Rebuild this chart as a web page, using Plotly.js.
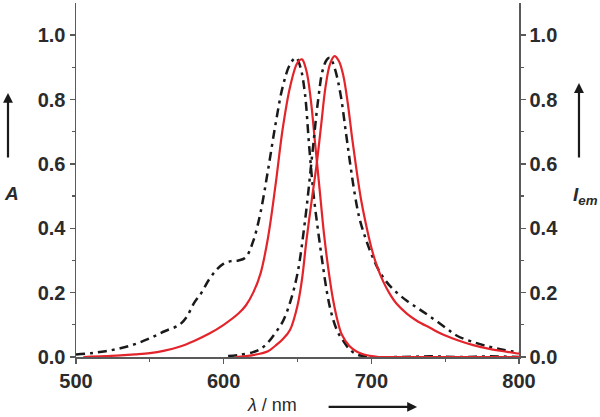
<!DOCTYPE html>
<html>
<head>
<meta charset="utf-8">
<script src="https://cdn.plot.ly/plotly-3.0.1.min.js"></script>
<style>html,body{margin:0;padding:0;background:#fff;}#chart{width:600px;height:417px;}</style>
</head>
<body>
<div id="chart"></div>
<script>
// Absorption, black dash-dot
const absBlackX = [500,510,520,530,540,550,560,570,575,580,585,590,595,600,605,610,615,620,625,630,635,640,645,649,652,655,658,661,664,667,670,673,677,681,685,690,695,700,720,740,760,780,800];
const absBlackY = [0.008,0.012,0.018,0.027,0.04,0.058,0.08,0.1,0.125,0.168,0.2,0.24,0.27,0.29,0.298,0.3,0.31,0.36,0.45,0.58,0.72,0.84,0.91,0.93,0.9,0.82,0.65,0.5,0.39,0.29,0.2,0.135,0.08,0.05,0.025,0.008,0.003,0.0,0.0,0.002,0.0,0.002,0.0];
// Absorption, red solid
const absRedX = [505,510,520,530,540,550,560,570,580,590,600,610,615,620,625,630,635,640,645,650,653,656,659,662,665,668,671,674,677,680,685,690,695,700,705,720,740,760,780,800];
const absRedY = [0.0,0.001,0.003,0.005,0.008,0.012,0.02,0.032,0.05,0.072,0.1,0.135,0.16,0.2,0.26,0.37,0.53,0.71,0.84,0.915,0.925,0.89,0.8,0.66,0.52,0.38,0.27,0.18,0.115,0.07,0.035,0.017,0.008,0.003,0.0,0.0,0.0,0.0,0.0,0.0];
// Emission, black dash-dot
const emBlackX = [603,610,620,625,630,635,640,645,650,655,660,664,667,670,672,675,679,683,686,689,692,696,700,705,710,716,724,732,740,750,758,770,780,790,800];
const emBlackY = [0.003,0.006,0.015,0.025,0.045,0.075,0.11,0.17,0.26,0.42,0.63,0.8,0.89,0.925,0.93,0.9,0.82,0.69,0.59,0.5,0.43,0.37,0.32,0.27,0.235,0.205,0.175,0.15,0.125,0.092,0.066,0.045,0.032,0.022,0.014];
// Emission, red solid
const emRedX = [608,620,630,635,640,645,650,653,656,660,663,666,669,672,675,678,681,684,687,690,693,696,700,704,708,712,717,724,731,740,747,758,769,780,792,800];
const emRedY = [0.0,0.006,0.018,0.035,0.055,0.085,0.16,0.24,0.36,0.5,0.6,0.72,0.84,0.91,0.935,0.92,0.875,0.79,0.68,0.58,0.49,0.42,0.34,0.28,0.235,0.2,0.166,0.135,0.112,0.09,0.073,0.053,0.037,0.025,0.016,0.01];

const xTicks = [500,600,700,800];
const yTicks = [0.0,0.2,0.4,0.6,0.8,1.0];
const yTickText = ['0.0','0.2','0.4','0.6','0.8','1.0'];

const RED = '#e3242b';
const BLACK = '#1a1a1a';
const DASHDOT = '9px,5px,3px,5px';

const traces = [
  {x: absBlackX, y: absBlackY, mode:'lines', line:{color:BLACK, width:2.5, dash:DASHDOT, shape:'spline'}, hoverinfo:'skip'},
  {x: absRedX, y: absRedY, mode:'lines', line:{color:RED, width:2.2, shape:'spline'}, hoverinfo:'skip'},
  {x: emBlackX, y: emBlackY, yaxis:'y2', mode:'lines', line:{color:BLACK, width:2.5, dash:DASHDOT, shape:'spline'}, hoverinfo:'skip'},
  {x: emRedX, y: emRedY, yaxis:'y2', mode:'lines', line:{color:RED, width:2.2, shape:'spline'}, hoverinfo:'skip'}
];

const FONT = 'Liberation Sans, Arial, sans-serif';
const tickFont = {family:FONT, size:20, color:'#2b2b2b', weight:'bold'};
const axisCommon = {
  showline:true, linecolor:'#5a5a5a', linewidth:1.5, showgrid:false, zeroline:false,
  ticks:'outside', ticklen:5, tickwidth:1.5, tickcolor:'#5a5a5a', tickfont:tickFont
};

const layout = {
  width:600, height:417,
  margin:{l:76, r:81, t:3, b:60},
  paper_bgcolor:'#fff', plot_bgcolor:'#fff',
  showlegend:false,
  xaxis: Object.assign({}, axisCommon, {
    range:[500,800], tickvals:xTicks, ticktext:xTicks.map(String),
    minor:{dtick:50, ticklen:3, tickwidth:1.2, tickcolor:'#5a5a5a', ticks:'outside'}
  }),
  yaxis: Object.assign({}, axisCommon, {
    range:[0,1.1], tickvals:yTicks, ticktext:yTickText,
    minor:{tickvals:[0.1,0.3,0.5,0.7,0.9], ticklen:3, tickwidth:1.2, tickcolor:'#5a5a5a', ticks:'outside'}
  }),
  yaxis2: Object.assign({}, axisCommon, {
    range:[0,1.1], tickvals:yTicks, ticktext:yTickText, overlaying:'y', side:'right',
    minor:{tickvals:[0.1,0.3,0.5,0.7,0.9], ticklen:3, tickwidth:1.2, tickcolor:'#5a5a5a', ticks:'outside'}
  }),
  annotations: [
    // left label A with arrow
    {xref:'paper', yref:'paper', x:-0.1535, y:0.746, ax:0, ay:66, showarrow:true, arrowhead:2, arrowsize:0.9, arrowwidth:2.2, arrowcolor:'#1a1a1a', text:''},
    {xref:'paper', yref:'paper', x:-0.146, y:0.462, xanchor:'center', yanchor:'middle', showarrow:false, text:'<b><i>A</i></b>', font:{family:FONT, size:19, color:'#2b2b2b'}},
    // right label I_em with arrow
    {xref:'paper', yref:'paper', x:1.1354, y:0.774, ax:0, ay:76, showarrow:true, arrowhead:2, arrowsize:0.9, arrowwidth:2.2, arrowcolor:'#1a1a1a', text:''},
    {xref:'paper', yref:'paper', x:1.118, y:0.455, xanchor:'left', yanchor:'middle', showarrow:false, text:'<b><i>I<sub>em</sub></i></b>', font:{family:FONT, size:19, color:'#2b2b2b'}},
    // x label with arrow
    {xref:'paper', yref:'paper', x:0.443, y:-0.135, xanchor:'center', yanchor:'middle', showarrow:false, text:'<i>λ</i> / nm', font:{family:FONT, size:18, color:'#2b2b2b'}},
    {xref:'paper', yref:'paper', x:0.77, y:-0.141, ax:-90, ay:0, showarrow:true, arrowhead:2, arrowsize:0.9, arrowwidth:2.2, arrowcolor:'#1a1a1a', text:''}
  ]
};

Plotly.newPlot('chart', traces, layout, {staticPlot:true, displayModeBar:false});
</script>
</body>
</html>
